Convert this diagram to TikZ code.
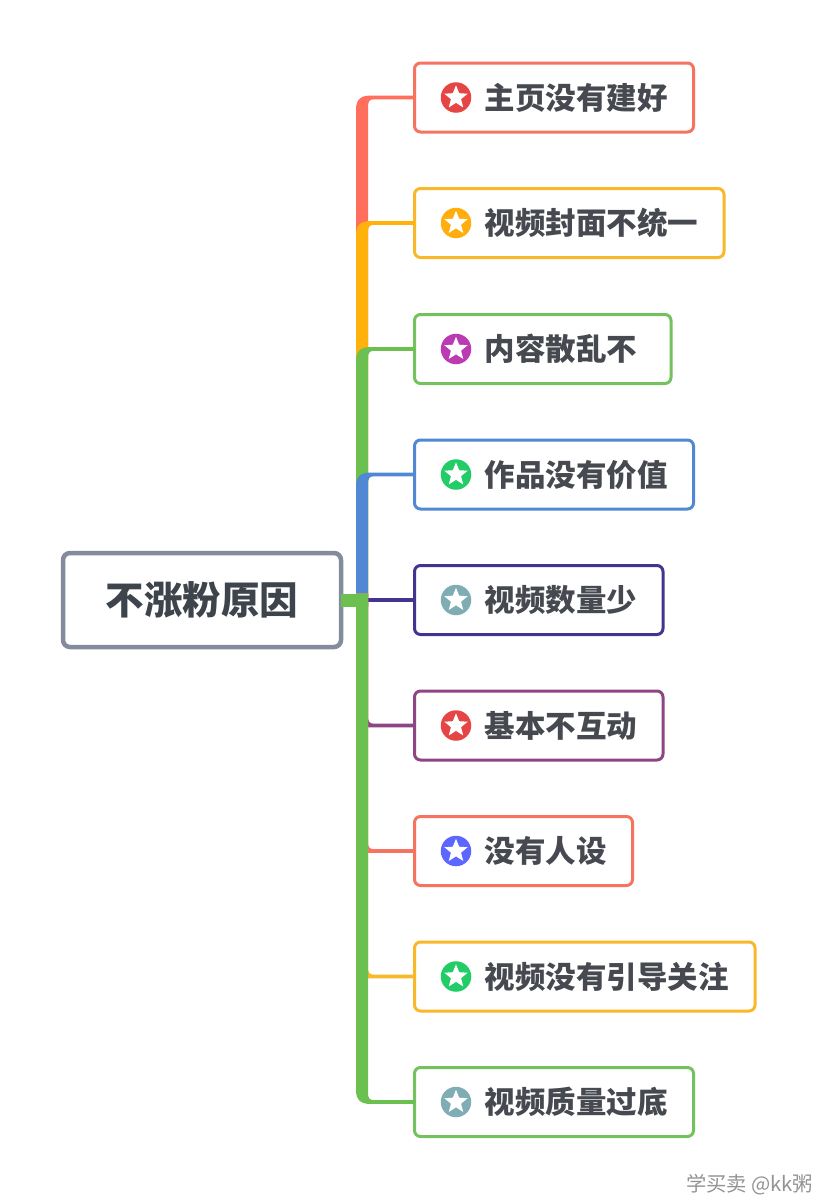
\documentclass[tikz,border=0pt]{standalone}
\usepackage{fontspec}
\usetikzlibrary{calc,shapes.geometric}
\newfontfamily\cjk{Noto Sans CJK SC}
\definecolor{cred}{HTML}{F5735F}
\definecolor{tred}{HTML}{FF6F5B}
\definecolor{corange}{HTML}{F9B82A}
\definecolor{torange}{HTML}{FFB20C}
\definecolor{cgreen}{HTML}{74C25E}
\definecolor{tgreen}{HTML}{6BC04F}
\definecolor{cblue}{HTML}{5088D4}
\definecolor{cnavy}{HTML}{43358F}
\definecolor{cplum}{HTML}{8E4584}
\definecolor{irred}{HTML}{E64545}
\definecolor{iorange}{HTML}{FFAE0D}
\definecolor{ipurple}{HTML}{BB3BB3}
\definecolor{igreen}{HTML}{22CC66}
\definecolor{iteal}{HTML}{7FADB3}
\definecolor{iblue}{HTML}{5B67FF}
\definecolor{inktext}{HTML}{464A50}
\definecolor{roottext}{HTML}{3D444B}
\definecolor{rootline}{HTML}{838B9C}
\tikzset{
  leafbox/.style={draw=#1,line width=3pt,fill=white,rounded corners=6pt,anchor=west,
    minimum height=69pt,inner sep=0pt,outer sep=0pt},
  rootbox/.style={draw=rootline,line width=4.5pt,fill=white,rounded corners=7pt,
    minimum width=278pt,minimum height=94pt,inner sep=0pt,outer sep=0pt,
    font=\cjk\bfseries\fontsize{38.5}{45}\selectfont,text=roottext},
  leaftext/.style={anchor=west,inner sep=0pt,text=inktext,font=\cjk\bfseries\fontsize{30.5}{36}\selectfont},
  iconball/.style={circle,fill=#1,minimum size=30.5pt,inner sep=0pt},
  iconstar/.style={star,star points=5,star point ratio=2.3,fill=white,minimum size=24.5pt,inner sep=0pt},
  marktext/.style={inner sep=0pt,text=black!42,font=\cjk\fontsize{20.3}{25}\selectfont}
}
% #1 leaf name, #2 colour, #3 +1 trunk comes from below, -1 from above
\newcommand\branchshape[3]{%
  \coordinate (T) at (trunk |- #1.west);
  \fill[#2] ($(trunk)+(-6,#3*6.5)$) -- ($(T)+(-6,#3*12)$)
    .. controls ($(T)+(-6,#3*2)$) and ($(T)+(-1,-#3*1.9)$) .. ($(T)+(8,-#3*1.9)$)
    -- ($(#1.west)+(0,-#3*1.8)$) -- ($(#1.west)+(0,#3*1.8)$) -- ($(T)+(12,#3*1.8)$)
    .. controls ($(T)+(7.5,#3*1.8)$) and ($(T)+(6,#3*4)$) .. ($(T)+(6,#3*9)$)
    -- ($(trunk)+(6,#3*6.5)$) -- cycle;
}
% #1 name, #2 y, #3 width, #4 line colour, #5 icon colour, #6 text
\newcommand\leafitem[6]{%
  \node[leafbox=#4,minimum width=#3pt] (#1) at (414.5,#2) {};
  \node[iconball=#5] (#1i) at ($(#1.west)+(41.5,0)$) {};
  \node[iconstar] (#1s) at (#1i) {};
  \node[leaftext] (#1t) at ($(#1.west)+(70,0)$) {#6};
}
\begin{document}
\begin{tikzpicture}[x=1pt,y=-1pt]
\useasboundingbox (0,0) rectangle (817,1200);
\fill[white] (0,0) rectangle (817,1200);
\coordinate (trunk) at (362,600);
\node[rootbox] (root) at (202,600) {不涨粉原因};
\leafitem{a}{97.5}{279}{cred}{irred}{主页没有建好}
\leafitem{b}{223}{309.5}{corange}{iorange}{视频封面不统一}
\leafitem{c}{349}{256.5}{cgreen}{ipurple}{内容散乱不}
\leafitem{d}{474.5}{279}{cblue}{igreen}{作品没有价值}
\leafitem{e}{600}{248.5}{cnavy}{iteal}{视频数量少}
\leafitem{f}{725.5}{248.5}{cplum}{irred}{基本不互动}
\leafitem{g}{851}{218}{cred}{iblue}{没有人设}
\leafitem{h}{976.5}{340.5}{corange}{igreen}{视频没有引导关注}
\leafitem{i}{1102}{279}{cgreen}{iteal}{视频质量过底}
\branchshape{a}{tred}{1}
\branchshape{b}{torange}{1}
\branchshape{c}{tgreen}{1}
\branchshape{d}{cblue}{1}
\draw[cnavy,line width=3.6pt] (trunk) -- (e.west);
\branchshape{f}{cplum}{-1}
\branchshape{g}{cred}{-1}
\branchshape{h}{corange}{-1}
\branchshape{i}{tgreen}{-1}
\draw[tgreen,line width=13pt] (root.east) -- ($(trunk)+(6,0)$);
\node[marktext,anchor=west] (wm) at (686,1185) {学买卖\hspace{4pt}@kk粥};
\end{tikzpicture}
\end{document}
